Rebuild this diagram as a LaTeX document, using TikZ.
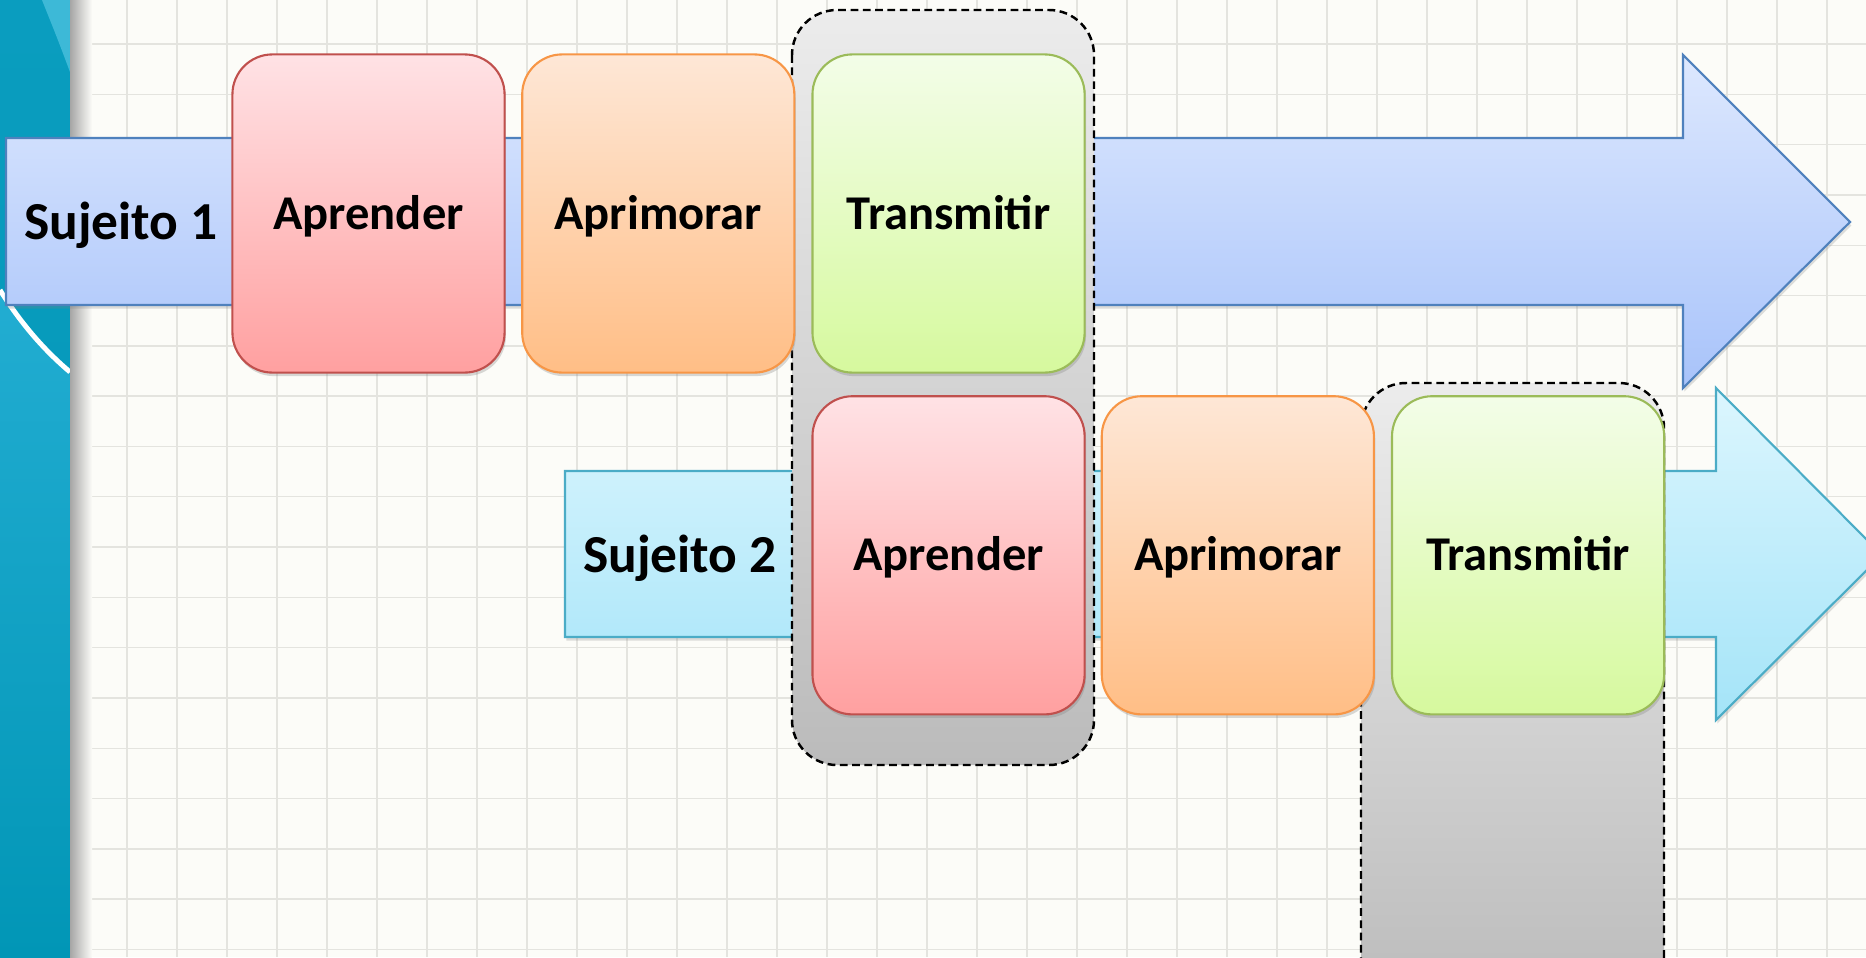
\documentclass[tikz,border=0pt]{standalone}
\usepackage{fontspec}
\setmainfont{Carlito}
\usetikzlibrary{positioning}
\usetikzlibrary{shadows}

\definecolor{paper}{HTML}{FCFCF8}
\definecolor{gridline}{HTML}{E4E4DF}
\definecolor{bandtop}{HTML}{0A9DBF}
\definecolor{bandbot}{HTML}{0196B6}
\definecolor{bandlight}{HTML}{3DB9D7}
\definecolor{bandmid}{HTML}{22ADD2}
\definecolor{learnline}{HTML}{C0504D}
\definecolor{learntop}{HTML}{FFE2E5}
\definecolor{learnbot}{HTML}{FFA0A0}
\definecolor{refineline}{HTML}{F79646}
\definecolor{refinetop}{HTML}{FEE7D6}
\definecolor{refinebot}{HTML}{FFBE86}
\definecolor{passline}{HTML}{9BBB59}
\definecolor{passtop}{HTML}{F3FDE8}
\definecolor{passbot}{HTML}{D6F99E}
\definecolor{laneoneline}{HTML}{4F81BD}
\definecolor{laneonetop}{HTML}{DDE8FE}
\definecolor{laneonebot}{HTML}{A8C3FA}
\definecolor{lanetwoline}{HTML}{4BACC6}
\definecolor{lanetwotop}{HTML}{DCF6FE}
\definecolor{lanetwobot}{HTML}{A4E4F8}
\definecolor{grouptop}{HTML}{ECECEC}
\definecolor{groupbot}{HTML}{BBBBBB}

\begin{document}
\begin{tikzpicture}[x=0.01cm,y=-0.01cm,
	stage/.style={rectangle,rounded corners=0.4cm,minimum width=2.72cm,minimum height=3.18cm,
		line width=0.6pt,font=\bfseries\fontsize{13.8}{16}\selectfont,
		text height=11pt,text depth=2.1pt,
		drop shadow={shadow xshift=0.4pt,shadow yshift=-1pt,opacity=0.3}},
	learn/.style={draw=learnline,top color=learntop,bottom color=learnbot},
	refine/.style={draw=refineline,top color=refinetop,bottom color=refinebot},
	pass/.style={draw=passline,top color=passtop,bottom color=passbot},
	tag/.style={font=\bfseries\fontsize{15.2}{18}\selectfont,text height=12.2pt,text depth=2.4pt},
	lane/.style={line width=0.6pt,drop shadow={shadow xshift=0.4pt,shadow yshift=-1pt,opacity=0.25}},
	group/.style={draw=black,line width=0.7pt,dash pattern=on 2.2pt off 1.3pt,
		rounded corners=0.45cm,top color=grouptop,bottom color=groupbot}]

	\clip (0,0) rectangle (1866,957);
	\fill[paper] (0,0) rectangle (1866,957);
	%grid paper
	\foreach \gx in {27,77,...,1877} { \draw[gridline,line width=0.4pt] (\gx,0) -- (\gx,957); }
	\foreach \k in {0,...,18} { \draw[gridline,line width=0.4pt] (0,{44+50.3*\k}) -- (1866,{44+50.3*\k}); }

	%left band of the slide
	\shade[top color=bandtop,bottom color=bandbot] (0,0) rectangle (70,957);
	\fill[bandlight] (42,0) -- (70,0) -- (70,72) .. controls (58,40) .. (42,0) -- cycle;
	\shade[top color=bandmid,bottom color=bandbot] (0,290) .. controls (25,330) and (50,355) .. (70,372) -- (70,957) -- (0,957) -- cycle;
	\draw[white,line width=1.4pt] (0,290) .. controls (25,330) and (50,355) .. (70,372);
	\shade[left color=black!35,right color=paper] (70,0) rectangle (92,957);

	%the two lanes
	\draw[lane,draw=laneoneline,top color=laneonetop,bottom color=laneonebot]
		(6,138) -- (1683,138) -- (1683,55) -- (1850,222) -- (1683,388) -- (1683,305) -- (6,305) -- cycle;
	\draw[lane,draw=lanetwoline,top color=lanetwotop,bottom color=lanetwobot]
		(565,471) -- (1716,471) -- (1716,388) -- (1882,555) -- (1716,720) -- (1716,637) -- (565,637) -- cycle;

	%overlap zones
	\draw[group] (792,10) rectangle (1094,765);
	\draw[group] (1361,383) rectangle (1664,1010);

	%labels of the lanes
	\node[tag] (subj1) at (121,222) {Sujeito 1};
	\node[tag] (subj2) at (680,555) {Sujeito 2};

	%stages
	\node[stage,learn] (learn1) at (368.5,213.5) {Aprender};
	\node[stage,refine,right=0.155cm of learn1] (refine1) {Aprimorar};
	\node[stage,pass,right=0.16cm of refine1] (pass1) {Transmitir};

	\node[stage,learn,below=0.215cm of pass1] (learn2) {Aprender};
	\node[stage,refine,right=0.15cm of learn2] (refine2) {Aprimorar};
	\node[stage,pass,right=0.16cm of refine2] (pass2) {Transmitir};

\end{tikzpicture}
\end{document}
